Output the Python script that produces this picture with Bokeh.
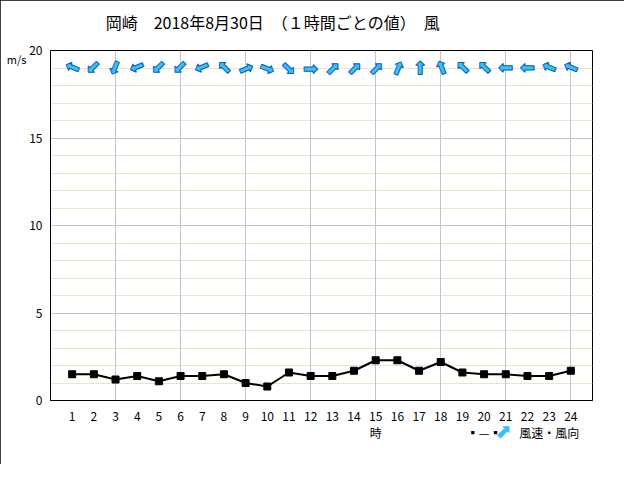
import math
from bokeh.plotting import figure
from bokeh.models import Range1d, FixedTicker, Grid, LinearAxis, ColumnDataSource
from bokeh.core.properties import value
from bokeh.embed import file_html
from bokeh.resources import INLINE

# ---- data ----
hours = list(range(1, 25))
wind_speed = [1.5, 1.5, 1.2, 1.4, 1.1, 1.4, 1.4, 1.5, 1.0, 0.8, 1.6, 1.4,
              1.4, 1.7, 2.3, 2.3, 1.7, 2.2, 1.6, 1.5, 1.5, 1.4, 1.4, 1.7]
# direction the wind blows FROM (16-point compass)
wind_from = ["ESE", "NE", "NNE", "ENE", "NE", "NE", "ENE", "SE",
             "WSW", "WNW", "NW", "W", "SW", "SW", "SW", "SSW",
             "S", "SSE", "SE", "SE", "E", "E", "ESE", "ESE"]
compass = ["N", "NNE", "NE", "ENE", "E", "ESE", "SE", "SSE",
           "S", "SSW", "SW", "WSW", "W", "WNW", "NW", "NNW"]
x_ticks = hours
y_ticks = [0, 5, 10, 15, 20]
title_text = "岡崎　2018年8月30日　（１時間ごとの値）　風"
x_title = "時"
y_title = "m/s"
legend_text = "風速・風向"
dir_row = 19

# arrow angle: points to where the wind blows (math convention, radians)
angles = []
for d in wind_from:
    bearing_to = compass.index(d) * 22.5 + 180.0
    angles.append(math.radians(90.0 - bearing_to))

FONT = "Noto Sans CJK JP"
ARROW_FILL = "#3CC0F8"
ARROW_EDGE = "#0A5FB4"

p = figure(width=624, height=464, output_backend="svg", toolbar_location=None,
           x_range=Range1d(0, 25), y_range=Range1d(0, 20),
           min_border_left=50, min_border_right=32, min_border_top=50,
           min_border_bottom=64, background_fill_color="white",
           border_fill_color="white")
p.styles = {"outline": "1px solid black", "outline-offset": "-1px"}
p.outline_line_color = "black"
p.outline_line_width = 1

# grids
p.xgrid.ticker = FixedTicker(ticks=[3, 6, 9, 12, 15, 18, 21, 24])
p.xgrid.grid_line_color = "#C4C4C4"
p.ygrid.ticker = FixedTicker(ticks=[5, 10, 15])
p.ygrid.grid_line_color = "#C4C4C4"
minor = Grid(dimension=1, ticker=FixedTicker(ticks=[t for t in range(1, 20) if t % 5 != 0]),
             grid_line_color="#EDE3C8")
p.center = [minor] + list(p.center)


def plain(ax, font=FONT, size="12px", color="black", standoff=8, line=True):
    ax.major_tick_line_color = None
    ax.minor_tick_line_color = None
    ax.major_tick_out = 0
    ax.major_tick_in = 0
    ax.axis_line_color = "black" if line else None
    ax.major_label_text_font = font
    ax.major_label_text_font_size = size
    ax.major_label_text_color = color
    ax.major_label_standoff = standoff


# main axes
plain(p.xaxis[0], standoff=6)
plain(p.yaxis[0])
p.xaxis.ticker = FixedTicker(ticks=x_ticks)
p.yaxis.ticker = FixedTicker(ticks=y_ticks)
p.xaxis.major_label_text_line_height = 1.0
# second text row under the hour labels: axis name and legend
p.xaxis.major_label_overrides = {15: "15\n" + x_title, 20: "20\n▪—▪",
                                 23: "23\n" + legend_text}

# unit label to the left of the y axis
y_unit_axis = LinearAxis(ticker=FixedTicker(ticks=[19.5]),
                         major_label_overrides={19.5: y_title})
plain(y_unit_axis, size="11px", standoff=0, line=False)
p.add_layout(y_unit_axis, "left")

# title row above the plot
title_axis = LinearAxis(ticker=FixedTicker(ticks=[10.25]),
                        major_label_overrides={10.25: title_text})
plain(title_axis, size="16px", standoff=17, line=False)
p.add_layout(title_axis, "above")

# wind speed line
p.line(hours, wind_speed, line_color="black", line_width=2)
p.scatter(hours, wind_speed, marker="square", size=7, color="black")

# wind direction arrows
src = ColumnDataSource(dict(x=hours, y=[dir_row] * len(hours), a=angles,
                            t=["➡"] * len(hours)))
p.text(x="x", y="y", text="t", angle="a", source=src,
       text_align="center", text_baseline="middle",
       text_font=value("DejaVu Sans"), text_font_size="18px",
       text_color=ARROW_FILL, text_outline_color=ARROW_EDGE)

# legend arrow symbol (blue), pulled up into the second text row
legend_arrow_axis = LinearAxis(ticker=FixedTicker(ticks=[20.9]),
                               major_label_overrides={20.9: "⬈"})
plain(legend_arrow_axis, font="DejaVu Sans", size="20px", color=ARROW_FILL,
      standoff=-25, line=False)
p.add_layout(legend_arrow_axis, "below")

open("out.html", "w").write(file_html(p, INLINE))
